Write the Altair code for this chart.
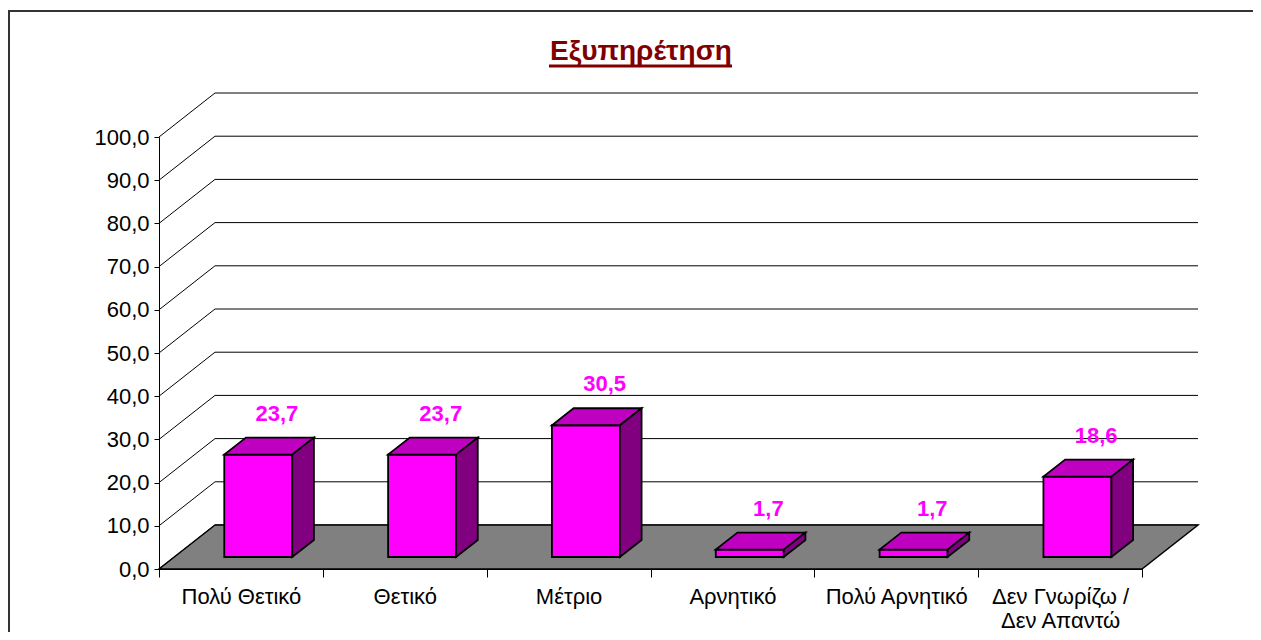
import json
import altair as alt
import pandas as pd

# ---------------- data ----------------
CATEGORIES = ['Πολύ Θετικό', 'Θετικό', 'Μέτριο', 'Αρνητικό', 'Πολύ Αρνητικό',
              'Δεν Γνωρίζω / Δεν Απαντώ']
VALUES = [23.7, 23.7, 30.5, 1.7, 1.7, 18.6]
Y_TICKS = [0, 10, 20, 30, 40, 50, 60, 70, 80, 90, 100]
TITLE = 'Εξυπηρέτηση'

# ---------------- layout / style ----------------
W, H = 983, 432
N = len(CATEGORIES)
BAND_PX = W / N
UNIT_PX = H / 100.0
# oblique projection of the depth axis (full depth)
DX = 56 / BAND_PX          # in band units
DY = 44 / UNIT_PX          # in value units
D_FRONT = 12 / 44          # bar front plane (fraction of depth)
D_BACK = 29 / 44           # bar back plane
U_L = 50 / BAND_PX         # bar left edge inside band
U_R = 118 / BAND_PX        # bar right edge inside band
U_C = (U_L + U_R) / 2

FONT = 'Liberation Sans'
C_FRONT = '#FF00FF'
C_TOP = '#C000C0'
C_SIDE = '#800080'
C_FLOOR = '#808080'
OUTLINE = 1.8

bars = pd.DataFrame({'cat': CATEGORIES, 'idx': list(range(N)), 'value': VALUES})
ticks = pd.DataFrame({'tick': Y_TICKS})
title_df = pd.DataFrame({'t': [TITLE]})

xs = alt.Scale(domain=[0, N], nice=False, zero=False)
ys = alt.Scale(domain=[0, 100], nice=False, zero=False)


def xlabel(c):
    if ' / ' in c:
        a, b = c.split(' / ', 1)
        return [a + ' /', b]
    return c


names_js = json.dumps([xlabel(c) for c in CATEGORIES] + [''], ensure_ascii=False)

x_axis = alt.Axis(values=list(range(N + 1)), labelExpr=f"{names_js}[datum.value]",
                  labelOffset=BAND_PX / 2, tickSize=8, labelPadding=9,
                  labelFont=FONT, labelFontSize=22, labelColor='black',
                  labelAlign='center', labelBaseline='top', labelLineHeight=24,
                  labelFlush=False, labelOverlap=False, labelBound=False,
                  domainColor='black', tickColor='black', grid=False, title=None)
y_axis = alt.Axis(values=Y_TICKS, labelExpr="replace(format(datum.value, '.1f'), '.', ',')",
                  tickSize=5, labelPadding=5, labelFont=FONT, labelFontSize=22,
                  labelColor='black', labelFlush=False, labelOverlap=False,
                  domainColor='black', tickColor='black', grid=False, title=None)

# frame (decoration)
frame = alt.Chart(title_df).mark_rect(fillOpacity=0, stroke='#333333', strokeWidth=2).encode(
    x=alt.value(-150), x2=alt.value(W + 400), y=alt.value(-126), y2=alt.value(H + 400))

# back wall grid lines
grid = alt.Chart(ticks).transform_calculate(
    gx1=f'{DX}', gx2=f'{N + DX}', gy=f'datum.tick + {DY}'
).mark_rule(color='black', strokeWidth=1).encode(
    x=alt.X('gx1:Q', scale=xs, axis=x_axis), x2='gx2:Q',
    y=alt.Y('gy:Q', scale=ys, axis=y_axis))

# left wall diagonals
wall = alt.Chart(ticks).transform_calculate(
    wx1='0', wx2=f'{DX}', wy1='datum.tick', wy2=f'datum.tick + {DY}'
).mark_rule(color='black', strokeWidth=1).encode(
    x=alt.X('wx1:Q', scale=xs, axis=x_axis), x2='wx2:Q',
    y=alt.Y('wy1:Q', scale=ys, axis=y_axis), y2='wy2:Q')

# floor
floor = alt.Chart(bars).transform_aggregate(n='count()').transform_calculate(
    d0='0', d1='1'
).transform_fold(['d0', 'd1'], as_=['edge', 'd']).transform_calculate(
    fx1=f'datum.d * {DX}', fx2=f'datum.n + datum.d * {DX}', fy=f'datum.d * {DY}'
).mark_area(orient='horizontal', fill=C_FLOOR, stroke='black', strokeWidth=1.5).encode(
    y=alt.Y('fy:Q', scale=ys, axis=y_axis),
    x=alt.X('fx1:Q', scale=xs, axis=x_axis, stack=None), x2='fx2:Q')

# bar front faces
front = alt.Chart(bars).transform_calculate(
    bx1=f'datum.idx + {U_L + D_FRONT * DX}', bx2=f'datum.idx + {U_R + D_FRONT * DX}',
    by1=f'{D_FRONT * DY}', by2=f'datum.value + {D_FRONT * DY}'
).mark_rect(fill=C_FRONT, stroke='black', strokeWidth=OUTLINE).encode(
    x=alt.X('bx1:Q', scale=xs, axis=x_axis), x2='bx2:Q',
    y=alt.Y('by2:Q', scale=ys, axis=y_axis), y2='by1:Q')

depth = alt.Chart(bars).transform_calculate(
    df=f'{D_FRONT}', db=f'{D_BACK}'
).transform_fold(['df', 'db'], as_=['edge', 'd'])

# bar top faces
top = depth.transform_calculate(
    tx1=f'datum.idx + {U_L} + datum.d * {DX}', tx2=f'datum.idx + {U_R} + datum.d * {DX}',
    ty=f'datum.value + datum.d * {DY}'
).mark_area(orient='horizontal', fill=C_TOP, stroke='black', strokeWidth=OUTLINE).encode(
    y=alt.Y('ty:Q', scale=ys, axis=y_axis),
    x=alt.X('tx1:Q', scale=xs, axis=x_axis, stack=None), x2='tx2:Q',
    detail='cat:N')

# bar side faces
side = depth.transform_calculate(
    sx=f'datum.idx + {U_R} + datum.d * {DX}',
    sy1=f'datum.value + datum.d * {DY}', sy2=f'datum.d * {DY}'
).mark_area(orient='vertical', fill=C_SIDE, stroke='black', strokeWidth=OUTLINE).encode(
    x=alt.X('sx:Q', scale=xs, axis=x_axis),
    y=alt.Y('sy1:Q', scale=ys, axis=y_axis, stack=None), y2='sy2:Q',
    detail='cat:N')

# value labels
labels = alt.Chart(bars).transform_calculate(
    lx=f'datum.idx + {U_C + D_BACK * DX}', ly=f'datum.value + {D_BACK * DY}',
    txt="replace(format(datum.value, '.1f'), '.', ',')"
).mark_text(font=FONT, fontSize=22, fontWeight='bold', color=C_FRONT,
            baseline='alphabetic', align='center', dx=-3, dy=-17).encode(
    x=alt.X('lx:Q', scale=xs, axis=x_axis), y=alt.Y('ly:Q', scale=ys, axis=y_axis),
    text='txt:N')

# title + underline
title = alt.Chart(title_df).mark_text(font=FONT, fontSize=28, fontWeight='bold',
                                      color='#800000', baseline='alphabetic',
                                      align='center').encode(
    text='t:N', x=alt.value(482), y=alt.value(-77))
underline = alt.Chart(title_df).mark_rule(color='#800000', strokeWidth=3).encode(
    x=alt.value(390), x2=alt.value(573), y=alt.value(-71))

chart = alt.layer(frame, grid, wall, floor, front, top, side, labels, title, underline).properties(
    width=W, height=H,
    autosize=alt.AutoSizeParams(type='none'),
    padding={'left': 151, 'top': 129, 'right': 111, 'bottom': 63},
    background='white'
).configure_view(stroke=None)

chart.save('out.html', embed_options={'renderer': 'svg', 'actions': False})
